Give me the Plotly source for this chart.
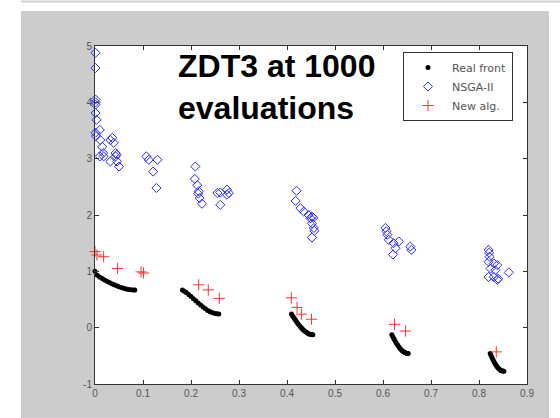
import plotly.graph_objects as go

# Real Pareto front
front_x = [0, 0.005, 0.01, 0.015, 0.02, 0.025, 0.03, 0.035, 0.04, 0.045, 0.05, 0.055, 0.06, 0.065, 0.07, 0.075, 0.08, 0.083,
           0.1822, 0.186, 0.19, 0.195, 0.2, 0.205, 0.21, 0.215, 0.22, 0.225, 0.23, 0.235, 0.24, 0.245, 0.25, 0.254, 0.2578,
           0.4093, 0.4122, 0.415, 0.4175, 0.42, 0.4225, 0.425, 0.4275, 0.43, 0.4325, 0.435, 0.4375, 0.44, 0.4425, 0.445, 0.4475, 0.45, 0.452, 0.4539,
           0.6184, 0.6207, 0.623, 0.6255, 0.628, 0.6305, 0.633, 0.6355, 0.638, 0.6405, 0.643, 0.6455, 0.648, 0.6503, 0.6525,
           0.8233, 0.825, 0.827, 0.829, 0.831, 0.833, 0.835, 0.837, 0.839, 0.841, 0.843, 0.845, 0.847, 0.8495, 0.8518]
front_y = [1.0, 0.9285, 0.8969, 0.8707, 0.8468, 0.8242, 0.8025, 0.7817, 0.762, 0.7435, 0.7264, 0.7112, 0.698, 0.6871, 0.6788, 0.6731, 0.6702, 0.6697,
           0.6699, 0.647, 0.6228, 0.589, 0.5528, 0.515, 0.4768, 0.439, 0.4017, 0.367, 0.3343, 0.306, 0.2819, 0.263, 0.25, 0.245, 0.2422,
           0.2425, 0.2038, 0.1676, 0.1358, 0.105, 0.0756, 0.0476, 0.0211, -0.0036, -0.0264, -0.0471, -0.0656, -0.0817, -0.0955, -0.1066, -0.1151, -0.1208, -0.1234, -0.1242,
           -0.124, -0.1637, -0.2014, -0.2401, -0.2764, -0.3098, -0.3407, -0.3679, -0.3919, -0.4125, -0.4294, -0.4425, -0.4517, -0.4567, -0.4583,
           -0.4578, -0.4917, -0.5298, -0.5656, -0.5992, -0.6297, -0.658, -0.6831, -0.7054, -0.7247, -0.7409, -0.7538, -0.7636, -0.7711, -0.7733]

# NSGA-II solutions
nsga_x = [0.001, 0.001, 0.001, 0.001, 0.001, 0.001, 0.003, 0.001, 0.002, 0.01, 0.011, 0.015, 0.017, 0.01, 0.018,
          0.032, 0.036, 0.039, 0.032, 0.043, 0.043, 0.046, 0.05, 0.045,
          0.107, 0.112, 0.13, 0.121, 0.128,
          0.209, 0.208, 0.213, 0.216, 0.215, 0.218, 0.223, 0.255, 0.261, 0.275, 0.279, 0.275, 0.261,
          0.42, 0.418, 0.428, 0.435, 0.445, 0.452, 0.455, 0.449, 0.452, 0.456, 0.452, 0.457,
          0.605, 0.607, 0.609, 0.612, 0.622, 0.633, 0.626, 0.621, 0.657, 0.659,
          0.82, 0.821, 0.822, 0.82, 0.831, 0.838, 0.824, 0.834, 0.82, 0.831, 0.838, 0.84, 0.862]
nsga_y = [4.88, 4.61, 4.05, 4.0, 3.96, 3.81, 3.69, 3.46, 3.4, 3.51, 3.33, 3.21, 3.1, 3.04, 3.04,
          3.33, 3.37, 3.28, 2.95, 3.1, 3.04, 2.95, 2.86, 3.07,
          3.04, 2.98, 2.98, 2.77, 2.48,
          2.86, 2.64, 2.53, 2.42, 2.38, 2.3, 2.2, 2.39, 2.4, 2.45, 2.39, 2.36, 2.18,
          2.43, 2.25, 2.12, 2.06, 2.0, 1.97, 1.95, 1.94, 1.85, 1.77, 1.6, 1.72,
          1.77, 1.71, 1.65, 1.56, 1.5, 1.53, 1.41, 1.3, 1.44, 1.38,
          1.38, 1.33, 1.26, 1.17, 1.14, 1.11, 1.05, 1.02, 0.9, 0.9, 0.85, 0.87, 0.98]

# New algorithm solutions
new_x = [0.0, 0.004, 0.018, 0.047, 0.096, 0.101, 0.216, 0.236, 0.259, 0.409, 0.421, 0.43, 0.451, 0.624, 0.647, 0.836]
new_y = [1.35, 1.29, 1.26, 1.05, 0.99, 0.97, 0.76, 0.67, 0.52, 0.53, 0.36, 0.24, 0.15, 0.06, -0.06, -0.43]

x_ticks = [0, 0.1, 0.2, 0.3, 0.4, 0.5, 0.6, 0.7, 0.8, 0.9]
x_tick_labels = ["0", "0.1", "0.2", "0.3", "0.4", "0.5", "0.6", "0.7", "0.8", "0.9"]
y_ticks = [-1, 0, 1, 2, 3, 4, 5]
y_tick_labels = ["-1", "0", "1", "2", "3", "4", "5"]

W, H = 560, 418
L, R, T, B = 95, 527, 46, 384
pw, ph = R - L, B - T

def px(xp):
    return (xp - L) / pw

def py(yp):
    return (B - yp) / ph

fig = go.Figure()
fig.add_trace(go.Scatter(x=front_x, y=front_y, mode="markers", name="Real front",
                         marker=dict(symbol="circle", size=5, color="black"), cliponaxis=False))
fig.add_trace(go.Scatter(x=nsga_x, y=nsga_y, mode="markers", name="NSGA-II",
                         marker=dict(symbol="diamond-open", size=7, color="#2a2aff", line=dict(width=1, color="#2a2aff")),
                         cliponaxis=False))
fig.add_trace(go.Scatter(x=new_x, y=new_y, mode="markers", name="New alg.",
                         marker=dict(symbol="cross-thin", size=8, line=dict(width=1, color="#ff3030")),
                         cliponaxis=False))

axis_common = dict(showgrid=False, zeroline=False, showline=True, linecolor="#333333", linewidth=1,
                   mirror="ticks", ticks="inside", ticklen=4, tickcolor="#333333",
                   tickfont=dict(family="Liberation Sans, Arial", size=10, color="#555555"))
fig.update_xaxes(range=[0, 0.9], tickvals=x_ticks, ticktext=x_tick_labels, **axis_common)
fig.update_yaxes(range=[-1, 5], tickvals=y_ticks, ticktext=y_tick_labels, **axis_common)

shapes = [
    dict(type="rect", xref="paper", yref="paper", x0=px(0), x1=px(W), y0=py(0), y1=py(11),
         fillcolor="white", line=dict(width=0), layer="below"),
    dict(type="rect", xref="paper", yref="paper", x0=px(0), x1=px(21), y0=py(0), y1=py(H),
         fillcolor="white", line=dict(width=0), layer="below"),
    dict(type="rect", xref="paper", yref="paper", x0=px(549), x1=px(W), y0=py(0), y1=py(H),
         fillcolor="white", line=dict(width=0), layer="below"),
    dict(type="line", xref="paper", yref="paper", x0=px(21), x1=px(W), y0=py(1.5), y1=py(1.5),
         line=dict(color="#d0d0d0", width=2), layer="below"),
]

fig.update_layout(
    width=W, height=H,
    margin=dict(l=L, r=W - R, t=T, b=H - B, pad=0),
    paper_bgcolor="#cccccc", plot_bgcolor="white",
    shapes=shapes,
    showlegend=True,
    legend=dict(x=px(403), y=py(52), xanchor="left", yanchor="top",
                bgcolor="white", bordercolor="#333333", borderwidth=1,
                font=dict(family="DejaVu Sans", size=11, color="#555555"),
                tracegroupgap=0, itemwidth=38),
    annotations=[dict(text="<b>ZDT3 at 1000<br>evaluations</b>", xref="paper", yref="paper",
                      x=px(176), y=py(46), xanchor="left", yanchor="top", align="left", showarrow=False,
                      font=dict(family="Liberation Sans, Arial", size=32, color="black"))],
)

fig.write_html("out.html", config={"displayModeBar": False},
               post_script="document.body.style.margin='0';document.body.style.padding='0';")
